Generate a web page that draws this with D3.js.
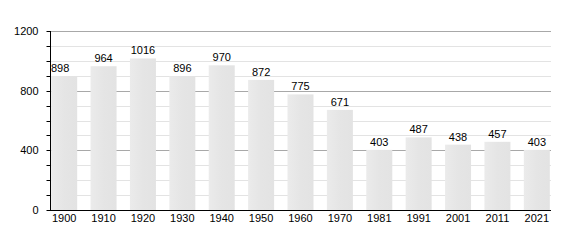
<!DOCTYPE html>
<html lang="en">
<head>
  <meta charset="UTF-8">
  <title>Population</title>
  <script src="https://d3js.org/d3.v7.min.js"></script>
  <style>
    body { margin: 0; background: #fff; }
    text { font-family: "Liberation Sans", Arial, sans-serif; font-size: 11px; fill: #000; }
    .bar { fill: url(#barFill); }
  </style>
</head>
<body>
  <svg width="580" height="240"></svg>
  <script>
    const years = ["1900", "1910", "1920", "1930", "1940", "1950", "1960", "1970", "1981", "1991", "2001", "2011", "2021"];
    const population = [898, 964, 1016, 896, 970, 872, 775, 671, 403, 487, 438, 457, 403];
    const majorTicks = [0, 400, 800, 1200];

    const svg = d3.select("svg");
    const plotLeft = 50, plotRight = 551, plotTop = 31, plotBottom = 210;

    const grad = svg.append("defs").append("linearGradient")
      .attr("id", "barFill")
      .attr("x1", "0").attr("x2", "1").attr("y1", "0").attr("y2", "0");
    grad.append("stop").attr("offset", "0").attr("stop-color", "#ebebeb");
    grad.append("stop").attr("offset", "0.5").attr("stop-color", "#e5e5e5");
    grad.append("stop").attr("offset", "1").attr("stop-color", "#e3e3e3");

    const x = d3.scaleBand()
      .domain(years)
      .range([plotLeft, plotRight])
      .paddingInner(0.34)
      .paddingOuter(0.03);

    const y = d3.scaleLinear()
      .domain([0, 1200])
      .range([plotBottom, plotTop]);

    // minor grid every 100
    svg.append("g")
      .selectAll("line")
      .data(d3.range(100, 1200, 100).filter(v => v % 400 !== 0))
      .enter().append("line")
      .attr("x1", plotLeft).attr("x2", plotRight)
      .attr("y1", d => Math.round(y(d)) + 0.5)
      .attr("y2", d => Math.round(y(d)) + 0.5)
      .attr("stroke", "#e3e3e3");

    // major grid
    svg.append("g")
      .selectAll("line")
      .data(majorTicks.filter(v => v > 0))
      .enter().append("line")
      .attr("x1", plotLeft).attr("x2", plotRight)
      .attr("y1", d => Math.round(y(d)) + 0.5)
      .attr("y2", d => Math.round(y(d)) + 0.5)
      .attr("stroke", "#a8a8a8");

    svg.append("g")
      .selectAll("rect")
      .data(population)
      .enter().append("rect")
      .attr("class", "bar")
      .attr("x", (d, i) => x(years[i]))
      .attr("width", x.bandwidth())
      .attr("y", d => y(d))
      .attr("height", d => plotBottom - y(d));

    // first label is pushed right against the axis in the original
    svg.append("g")
      .selectAll("text")
      .data(population)
      .enter().append("text")
      .attr("x", (d, i) => i === 0 ? plotLeft + 1 : x(years[i]) + x.bandwidth() / 2)
      .attr("y", d => y(d) - 4)
      .attr("text-anchor", (d, i) => i === 0 ? "start" : "middle")
      .text(d => d);

    // y axis with minor ticks
    const yAxis = svg.append("g").attr("transform", `translate(${plotLeft + 0.5},0)`);
    yAxis.append("line")
      .attr("y1", plotTop).attr("y2", plotBottom)
      .attr("stroke", "#000");
    yAxis.selectAll(".minor")
      .data(d3.range(0, 1300, 100))
      .enter().append("line")
      .attr("x1", -4).attr("x2", 0)
      .attr("y1", d => Math.round(y(d)) + 0.5)
      .attr("y2", d => Math.round(y(d)) + 0.5)
      .attr("stroke", "#000");
    yAxis.selectAll("text")
      .data(majorTicks)
      .enter().append("text")
      .attr("x", -12)
      .attr("y", d => y(d))
      .attr("dy", "0.35em")
      .attr("text-anchor", "end")
      .text(d => d);

    // x axis
    svg.append("line")
      .attr("x1", plotLeft).attr("x2", plotRight)
      .attr("y1", plotBottom + 0.5).attr("y2", plotBottom + 0.5)
      .attr("stroke", "#000");
    svg.append("g")
      .selectAll("text")
      .data(years)
      .enter().append("text")
      .attr("x", d => x(d) + x.bandwidth() / 2)
      .attr("y", plotBottom + 12)
      .attr("text-anchor", "middle")
      .text(d => d);
  </script>
</body>
</html>
